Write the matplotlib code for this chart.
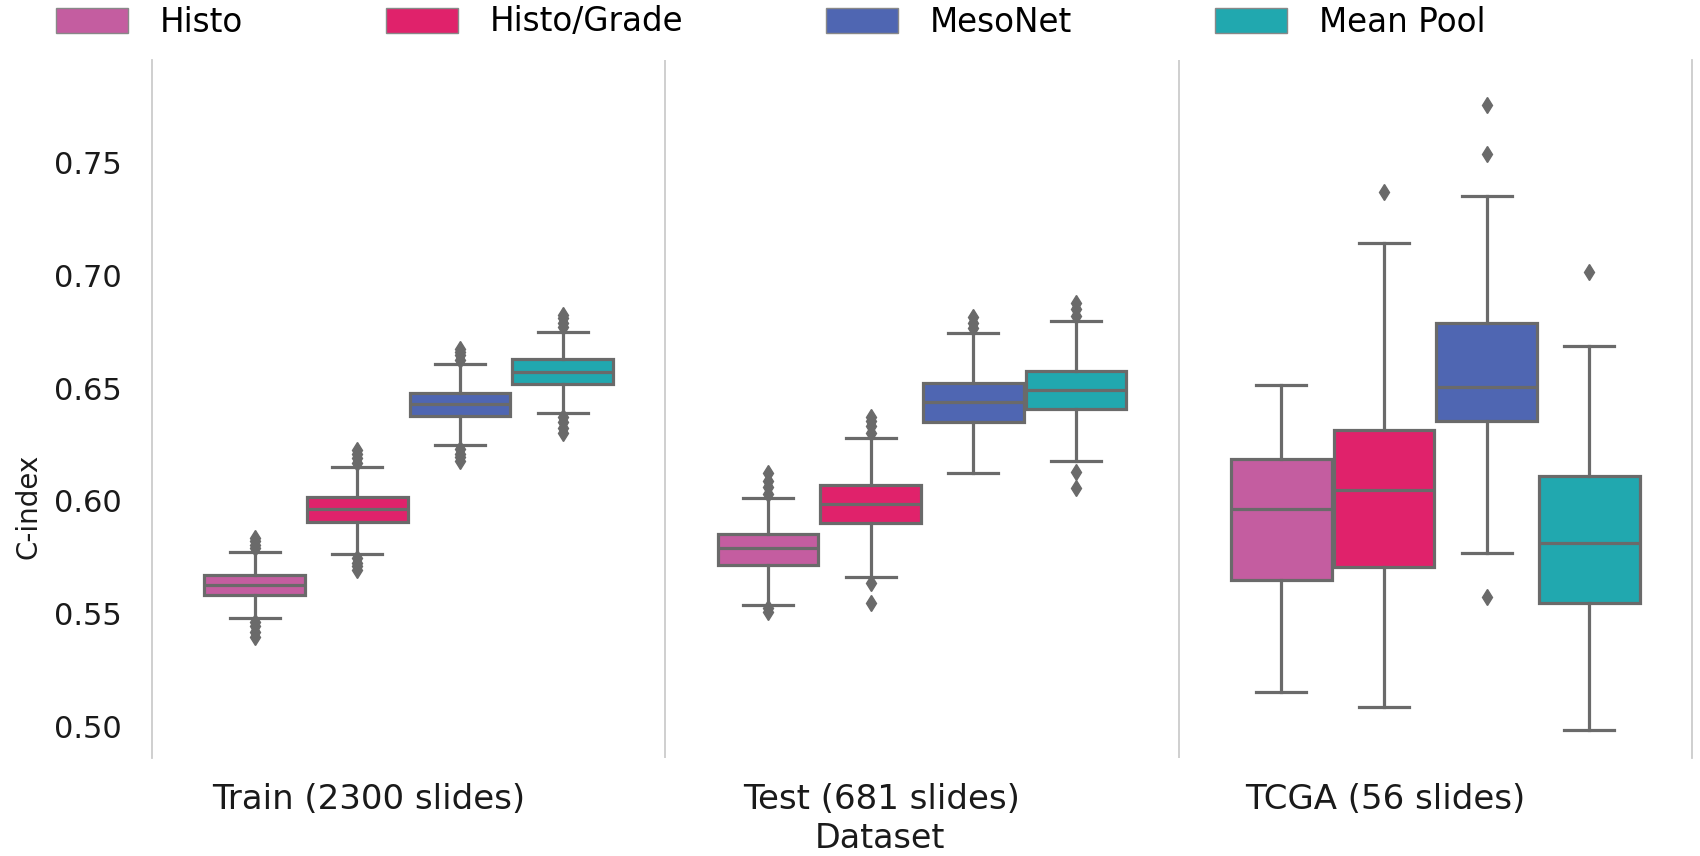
import matplotlib
matplotlib.use('Agg')
import matplotlib.pyplot as plt
import matplotlib.transforms as mtransforms
from matplotlib.patches import Patch

plt.rcParams['font.family'] = ['DejaVu Sans']

datasets = ['Train (2300 slides)', 'Test (681 slides)', 'TCGA (56 slides)']
methods = ['Histo', 'Histo/Grade', 'MesoNet', 'Mean Pool']
colors = ['#C45DA0', '#E0226B', '#4F66B2', '#21A8AF']

# Box statistics per dataset, one value per method
train_lo = [0.5482, 0.5764, 0.6248, 0.6388]
train_q1 = [0.5583, 0.5908, 0.6378, 0.6518]
train_med = [0.5627, 0.5963, 0.6428, 0.6573]
train_q3 = [0.5671, 0.6016, 0.6477, 0.6628]
train_hi = [0.5772, 0.6152, 0.6607, 0.6750]
train_fliers = [[0.5790, 0.5805, 0.5820, 0.5834, 0.5465, 0.5445, 0.5420, 0.5398],
                [0.6170, 0.6190, 0.6210, 0.6226, 0.5745, 0.5725, 0.5710, 0.5694],
                [0.6625, 0.6645, 0.6660, 0.6672, 0.6230, 0.6210, 0.6195, 0.6178],
                [0.6770, 0.6790, 0.6810, 0.6824, 0.6370, 0.6350, 0.6325, 0.6302]]

test_lo = [0.5538, 0.5664, 0.6125, 0.6178]
test_q1 = [0.5716, 0.5901, 0.6351, 0.6406]
test_med = [0.5790, 0.5985, 0.6440, 0.6492]
test_q3 = [0.5853, 0.6070, 0.6521, 0.6577]
test_hi = [0.6011, 0.6277, 0.6746, 0.6798]
test_fliers = [[0.6030, 0.6060, 0.6090, 0.6122, 0.5525, 0.5509],
               [0.6300, 0.6330, 0.6355, 0.6373, 0.5634, 0.5546],
               [0.6765, 0.6790, 0.6817],
               [0.6820, 0.6850, 0.6876, 0.6130, 0.6056]]

tcga_lo = [0.5154, 0.5085, 0.5770, 0.4984]
tcga_q1 = [0.5649, 0.5708, 0.6356, 0.5549]
tcga_med = [0.5963, 0.6048, 0.6504, 0.5812]
tcga_q3 = [0.6184, 0.6314, 0.6787, 0.6110]
tcga_hi = [0.6514, 0.7142, 0.7352, 0.6687]
tcga_fliers = [[], [0.7371], [0.7755, 0.7538, 0.5575], [0.7016]]

yticks = [0.50, 0.55, 0.60, 0.65, 0.70, 0.75]

all_stats = [
    (train_lo, train_q1, train_med, train_q3, train_hi, train_fliers),
    (test_lo, test_q1, test_med, test_q3, test_hi, test_fliers),
    (tcga_lo, tcga_q1, tcga_med, tcga_q3, tcga_hi, tcga_fliers),
]

W, H = 1700, 856
fig = plt.figure(figsize=(W / 100, H / 100), dpi=100)
ax_l, ax_r, ax_t, ax_b = 152, 1692, 60, 758
ax = fig.add_axes([ax_l / W, 1 - ax_b / H, (ax_r - ax_l) / W, (ax_b - ax_t) / H])

line_col = '#6a6a6a'
lw = 2.3
n = len(methods)
width = 0.8 / n
for i, (lo, q1, med, q3, hi, fl) in enumerate(all_stats):
    for j in range(n):
        st = dict(whislo=lo[j], q1=q1[j], med=med[j], q3=q3[j], whishi=hi[j],
                  fliers=fl[j])
        pos = i + (j - (n - 1) / 2) * width
        ax.bxp([st], positions=[pos], widths=[width * 0.98], patch_artist=True,
               showfliers=True,
               boxprops=dict(facecolor=colors[j], edgecolor=line_col, linewidth=lw),
               medianprops=dict(color=line_col, linewidth=lw),
               whiskerprops=dict(color=line_col, linewidth=lw),
               capprops=dict(color=line_col, linewidth=lw),
               flierprops=dict(marker='d', markerfacecolor=line_col,
                               markeredgecolor=line_col, markersize=8))

ax.set_xlim(-0.5, 2.5)
ax.set_ylim(0.486, 0.7955)
ax.set_yticks(yticks)
ax.set_yticklabels([f'{v:.2f}' for v in yticks])
ax.set_xticks(range(len(datasets)))
ax.set_xticklabels(datasets)
ax.tick_params(axis='y', length=0, pad=22, labelsize=22, labelcolor='#1a1a1a')
ax.tick_params(axis='x', length=0, pad=18, labelsize=24.5, labelcolor='#1a1a1a')

for lbl, dx in zip(ax.get_xticklabels(), [-0.40, -0.40, -0.50]):
    off = mtransforms.ScaledTranslation(dx, 0, fig.dpi_scale_trans)
    lbl.set_transform(lbl.get_transform() + off)

for s in ['top', 'bottom']:
    ax.spines[s].set_visible(False)
for s in ['left', 'right']:
    ax.spines[s].set_color('#cccccc')
    ax.spines[s].set_linewidth(1.3)
for xv in [0.5, 1.5]:
    ax.axvline(xv, color='#cccccc', linewidth=1.3, zorder=0)
ax.grid(False)

ax.set_ylabel('C-index', fontsize=20, color='#1a1a1a')
ax.yaxis.set_label_coords((29 - ax_l) / (ax_r - ax_l), (ax_b - 506) / (ax_b - ax_t))
ax.yaxis.label.set_va('center')
ax.set_xlabel('Dataset', fontsize=24, color='#1a1a1a')
ax.xaxis.set_label_coords((880 - ax_l) / (ax_r - ax_l), -(838 - ax_b) / (ax_b - ax_t))
ax.xaxis.label.set_va('center')

handles = [Patch(facecolor=c, edgecolor='#888888', linewidth=1, label=m)
           for c, m in zip(colors, methods)]
fig.legend(handles=handles, loc='center left', bbox_to_anchor=(56 / W, 1 - 22 / H),
           ncol=4, frameon=False, fontsize=23.5, handlelength=2.2, handleheight=0.8,
           handletextpad=0.98, columnspacing=4.38, borderpad=0, borderaxespad=0)

fig.savefig('out.png', dpi=100)
